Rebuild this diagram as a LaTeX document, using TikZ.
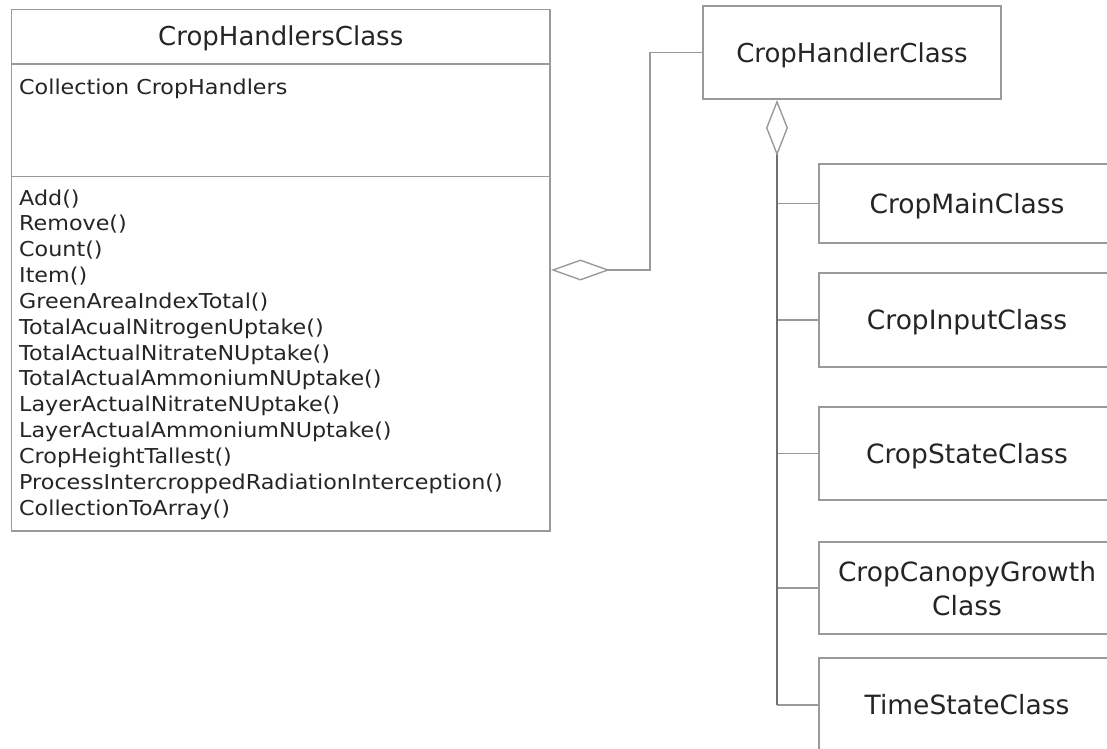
\documentclass[tikz,border=0pt]{standalone}
\usepackage{fontspec}
\setmainfont{DejaVu Sans}
\newfontfamily\memberfont{DejaVu Sans}[FakeStretch=1.085]
\usetikzlibrary{arrows.meta}
\definecolor{linegray}{HTML}{9A9A9A}
\definecolor{trunkgray}{HTML}{707070}
\definecolor{inkgray}{HTML}{252525}
\begin{document}
\begin{tikzpicture}[x=1pt,y=-1pt,
  classbox/.style={draw=linegray, line width=1.8pt, fill=white, inner sep=0pt},
  partbox/.style={classbox, minimum width=296pt, text=inkgray,
    font=\fontsize{26.5}{34}\selectfont, text height=19.5pt, text depth=0pt, align=center},
  titletxt/.style={text=inkgray, font=\fontsize{26}{32}\selectfont, inner sep=0pt, anchor=base},
  membertxt/.style={text=inkgray, font=\memberfont\fontsize{20.5}{25.85}\selectfont,
    inner sep=0pt, anchor=base west},
  divider/.style={draw=linegray, line width=1.8pt},
  conn/.style={draw=linegray, line width=1.8pt},
  trunk/.style={draw=trunkgray, line width=2.6pt},
]
\useasboundingbox (0,0) rectangle (1107,748);
\clip (0,0) rectangle (1107,748);

% collection class with its three compartments
\node[classbox, minimum width=538.5pt, minimum height=521.5pt] (handlers) at (280.75,270.25) {};
\draw[divider] (handlers.west |- 0,64) -- (handlers.east |- 0,64);
\draw[divider] (handlers.west |- 0,176.5) -- (handlers.east |- 0,176.5);
\node[titletxt] (handlersname) at (280.75,45) {CropHandlersClass};
\node[membertxt] (attr) at (19,94) {Collection CropHandlers};
\foreach \m [count=\i] in {Add(),Remove(),Count(),Item(),GreenAreaIndexTotal(),
    TotalAcualNitrogenUptake(),TotalActualNitrateNUptake(),TotalActualAmmoniumNUptake(),
    LayerActualNitrateNUptake(),LayerActualAmmoniumNUptake(),CropHeightTallest(),
    ProcessIntercroppedRadiationInterception(),CollectionToArray()}
  \node[membertxt] (op\i) at (19,{205+25.85*(\i-1)}) {\m};

% single handler and its parts
\node[partbox, minimum width=298pt, minimum height=93pt, font=\fontsize{26}{32}\selectfont]
  (handler) at (852,52.5) {CropHandlerClass};
\node[partbox, minimum height=79pt] (main) at (967,203.5) {CropMainClass};
\node[partbox, minimum height=94pt] (input) at (967,320) {CropInputClass};
\node[partbox, minimum height=93pt] (state) at (967,453.5) {CropStateClass};
\node[partbox, minimum height=92pt, text height=55.4pt, text depth=0pt] (canopy) at (967,588)
  {CropCanopyGrowth\\Class};
\node[partbox, minimum height=94pt] (time) at (967,705) {TimeStateClass};

% aggregation: collection holds handlers
\coordinate (aggL) at (handlers.east |- 0,270);
\draw[conn, {Diamond[open, length=59pt, width=21pt, line width=1.4pt]}-]
  (aggL) -- (650,270) |- (handler.west);

% aggregation: handler holds its parts
\coordinate (aggT) at (handler.south -| 777,0);
\foreach \n in {main,input,state,canopy,time}
  \draw[conn] (aggT |- \n.west) -- (\n.west);
\draw[trunk, {Diamond[open, length=56pt, width=22pt, line width=1.4pt, color=linegray]}-]
  (aggT) -- (aggT |- time.west);
\end{tikzpicture}
\end{document}
